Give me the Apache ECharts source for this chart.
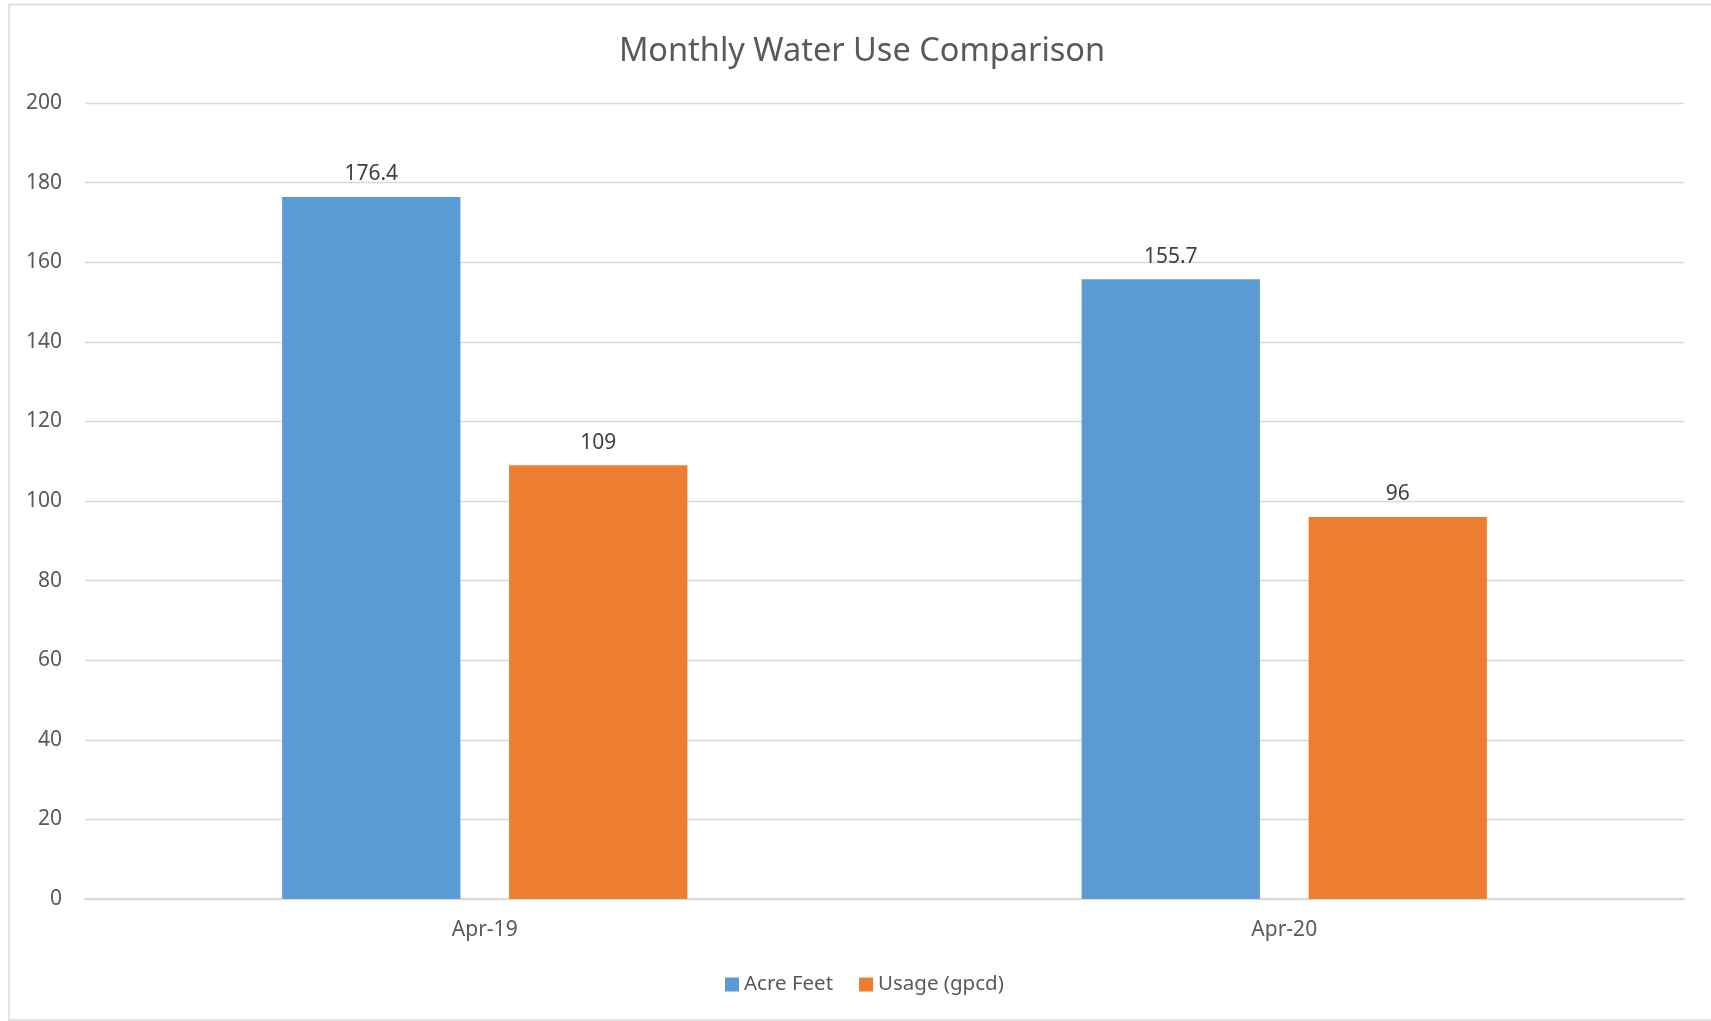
<!DOCTYPE html>
<html>
<head>
<meta charset="utf-8">
<title>Monthly Water Use Comparison</title>
<script src="https://cdn.jsdelivr.net/npm/echarts@6/dist/echarts.min.js"></script>
<style>
  html, body { margin: 0; padding: 0; background: #fff; }
  #chart { width: 1711px; height: 1021px; }
</style>
</head>
<body>
<div id="chart"></div>
<script>
const months = ['Apr-19', 'Apr-20']
const acreFeet = [176.4, 155.7]
const usageGpcd = [109, 96]
const seriesNames = ['Acre Feet', 'Usage (gpcd)']

const font = '"Noto Sans", "Open Sans", sans-serif'
const textGray = '#595959'
const gridGray = '#d9d9d9'

const chart = echarts.init(document.getElementById('chart'))

const option = {
  animation: false,
  backgroundColor: '#fff',
  textStyle: { fontFamily: font },
  graphic: [
    {
      // outer chart-area border
      type: 'rect',
      shape: { x: 9, y: 4.5, width: 1720, height: 1015.5 },
      style: { fill: 'none', stroke: gridGray, lineWidth: 1.5 },
      silent: true,
    },
  ],
  title: {
    text: 'Monthly Water Use Comparison',
    left: 857,
    textAlign: 'center',
    top: 30,
    textStyle: {
      fontFamily: font,
      fontSize: 32.5,
      fontWeight: 'normal',
      color: textGray,
    },
  },
  legend: {
    data: seriesNames,
    left: 720,
    top: 969,
    itemWidth: 14,
    itemHeight: 14,
    itemGap: 26,
    icon: 'rect',
    textStyle: { fontFamily: font, fontSize: 20.5, color: textGray },
  },
  grid: {
    left: 85,
    right: 27,
    top: 103,
    bottom: 122,
    containLabel: false,
  },
  xAxis: {
    type: 'category',
    data: months,
    axisLine: { lineStyle: { color: gridGray, width: 2 } },
    axisTick: { show: false },
    axisLabel: { color: textGray, fontFamily: font, fontSize: 21, margin: 21 },
  },
  yAxis: {
    type: 'value',
    min: 0,
    max: 200,
    interval: 20,
    axisLine: { show: false },
    axisTick: { show: false },
    axisLabel: { color: textGray, fontFamily: font, fontSize: 21, margin: 23 },
    splitLine: { lineStyle: { color: gridGray, width: 1.3 } },
  },
  series: [
    {
      name: seriesNames[0],
      type: 'bar',
      data: acreFeet,
      barWidth: '22.3%',
      barGap: '27.3%',
      itemStyle: { color: '#5b9bd5' },
      label: {
        show: true,
        position: 'top',
        distance: 12,
        color: '#404040',
        fontFamily: font,
        fontSize: 21,
      },
    },
    {
      name: seriesNames[1],
      type: 'bar',
      data: usageGpcd,
      barWidth: '22.3%',
      barGap: '27.3%',
      itemStyle: { color: '#ed7d31' },
      label: {
        show: true,
        position: 'top',
        distance: 12,
        color: '#404040',
        fontFamily: font,
        fontSize: 21,
      },
    },
  ],
}

chart.setOption(option)
</script>
</body>
</html>
